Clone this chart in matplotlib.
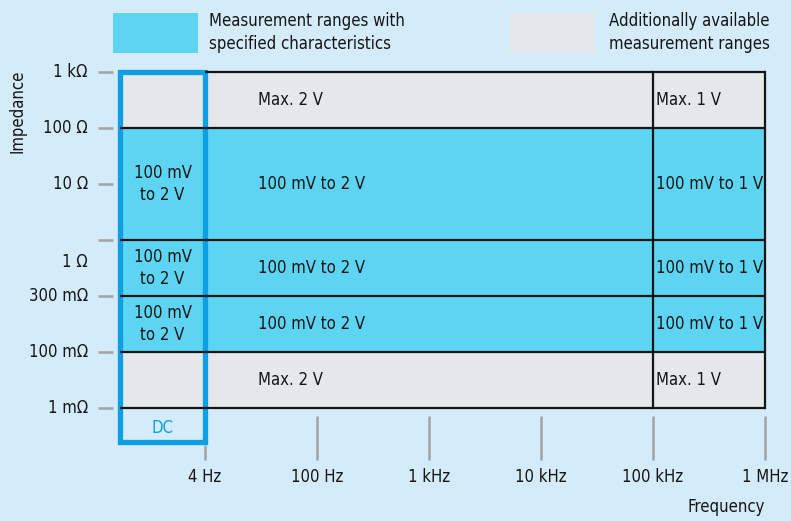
import matplotlib.pyplot as plt
from matplotlib.patches import Rectangle

# --------------------------------------------------
# data
# --------------------------------------------------
freq_labels = ["4 Hz", "100 Hz", "1 kHz", "10 kHz", "100 kHz", "1 MHz"]
imp_labels = ["1 mΩ", "100 mΩ", "300 mΩ", "", "10 Ω", "100 Ω", "1 kΩ"]
extra_imp_label = ("1 Ω", 2.6)

# impedance bands (row index bounds), bottom to top
band_lo = [0, 1, 2, 3, 5]
band_hi = [1, 2, 3, 5, 6]
band_spec = [False, True, True, True, False]   # True = specified characteristics
dc_text = ["", "100 mV\nto 2 V", "100 mV\nto 2 V", "100 mV\nto 2 V", ""]
mid_text = ["Max. 2 V", "100 mV to 2 V", "100 mV to 2 V", "100 mV to 2 V", "Max. 2 V"]
hf_text = ["Max. 1 V", "100 mV to 1 V", "100 mV to 1 V", "100 mV to 1 V", "Max. 1 V"]

legend_items = ["Measurement ranges with\nspecified characteristics",
                "Additionally available\nmeasurement ranges"]

# --------------------------------------------------
# style
# --------------------------------------------------
bg = "#d4ebfa"
cyan = "#5dd5f2"
grey = "#e4e8ea"
blue = "#0ca0e2"
ink = "#151515"
tick_c = "#a3a3a3"

plt.rcParams["font.family"] = ["DejaVu Sans"]
plt.rcParams["font.stretch"] = "condensed"
fs = 12

fig = plt.figure(figsize=(7.91, 5.21), dpi=100, facecolor=bg)
ax = fig.add_axes([0, 0, 1, 1])
ax.set_facecolor(bg)
ax.set_xlim(-1.830, 5.232)
ax.set_ylim(-2.018, 7.286)
ax.axis("off")

dc_l, dc_r = -0.757, 0.0
hf_l = 4
right = len(freq_labels) - 1
top = len(imp_labels) - 1

# --------------------------------------------------
# cells
# --------------------------------------------------
for lo, hi, spec, t0, t1, t2 in zip(band_lo, band_hi, band_spec, dc_text, mid_text, hf_text):
    col = cyan if spec else grey
    ax.add_patch(Rectangle((dc_l, lo), right - dc_l, hi - lo, facecolor=col, edgecolor="none"))
    yc = (lo + hi) / 2
    ax.text((dc_l + dc_r) / 2, yc, t0, ha="center", va="center", fontsize=fs,
            color=ink, linespacing=1.3)
    ax.text(0.47, yc, t1, ha="left", va="center", fontsize=fs, color=ink)
    ax.text(4.03, yc, t2, ha="left", va="center", fontsize=fs, color=ink)

# grid lines
for b in sorted(set(band_lo + band_hi)):
    x0 = dc_l if b < top else dc_r
    ax.plot([x0, right], [b, b], color=ink, lw=1.6, solid_capstyle="butt")
ax.plot([hf_l, hf_l], [0, top], color=ink, lw=1.6)
ax.plot([right, right], [0, top], color=ink, lw=1.6)

# DC box
ax.add_patch(Rectangle((dc_l, -0.61), dc_r - dc_l, top + 0.61, facecolor="none",
                       edgecolor=blue, lw=3.8))
ax.text((dc_l + dc_r) / 2, -0.36, "DC", ha="center", va="center", fontsize=fs, color=blue)

# --------------------------------------------------
# axes ticks and labels
# --------------------------------------------------
for j, lab in enumerate(imp_labels):
    ax.plot([-0.955, -0.821], [j, j], color=tick_c, lw=1.8, solid_capstyle="butt")
    ax.text(-1.045, j, lab, ha="right", va="center", fontsize=fs, color=ink)
ax.text(-1.045, extra_imp_label[1], extra_imp_label[0], ha="right", va="center",
        fontsize=fs, color=ink)

for i, lab in enumerate(freq_labels):
    y0 = -0.66 if i == 0 else -0.143
    ax.plot([i, i], [y0, -0.929], color=tick_c, lw=1.8, solid_capstyle="butt")
    ax.text(i, -1.23, lab, ha="center", va="center", fontsize=fs, color=ink)

ax.text(right, -1.77, "Frequency", ha="right", va="center", fontsize=fs, color=ink)
ax.text(-1.67, 5.29, "Impedance", ha="center", va="center", rotation=90, fontsize=fs, color=ink)

# --------------------------------------------------
# legend
# --------------------------------------------------
ax.add_patch(Rectangle((-0.821, 6.339), 0.759, 0.715, facecolor=cyan, edgecolor="none"))
ax.text(0.036, 6.70, legend_items[0], ha="left", va="center", fontsize=fs, color=ink,
        linespacing=1.35)
ax.add_patch(Rectangle((2.723, 6.339), 0.759, 0.715, facecolor=grey, edgecolor="none"))
ax.text(3.607, 6.70, legend_items[1], ha="left", va="center", fontsize=fs, color=ink,
        linespacing=1.35)

fig.savefig("out.png", dpi=100, facecolor=bg)
